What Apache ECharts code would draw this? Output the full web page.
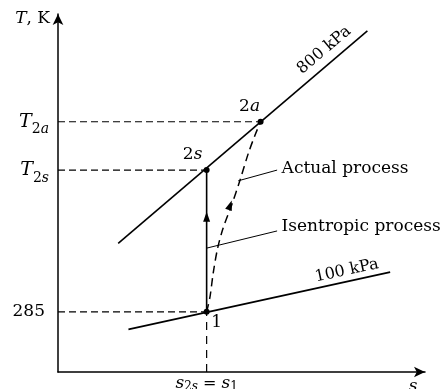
<!DOCTYPE html>
<html><head><meta charset="utf-8">
<script src="https://cdn.jsdelivr.net/npm/echarts@6/dist/echarts.min.js"></script>
<style>html,body{margin:0;padding:0;background:#fff}#c{width:443px;height:389px}</style>
</head><body><div id="c"></div>
<script>
// Schematic T-s diagram, units (s: 0..100, T: 0..100)
const stateS = [40.5, 40.5, 55.2];          // states 1, 2s, 2a
const stateT = [16.8, 56.4, 69.9];
const stateLabels = ['{r|1}', '{r|2}{i|s}', '{r|2}{i|a}'];
const line800S = [16.4, 84.3];
const line800T = [35.9, 95.3];
const line100S = [19.2, 90.5];
const line100T = [11.9, 27.9];
const actualS = [40.5, 41.4, 42.3, 43.5, 45.0, 47.3, 49.6, 51.9, 53.7, 55.2];
const actualT = [16.8, 20.9, 27.7, 34.6, 40.2, 46.6, 53.6, 61.2, 66.2, 69.9];
const arrowS = [40.5, 46.9];
const arrowT = [43.4, 46.6];
const actualLeaderS = [49.1, 59.7];
const actualLeaderT = [53.4, 56.4];
const isenLeaderS = [40.5, 59.7];
const isenLeaderT = [34.6, 39.4];
const yTickValues = [16.8, 56.4, 69.9];
const yTickLabels = ['{n|285}', '{ti|T}{sb|2}{sbi|s}', '{ti|T}{sb|2}{sbi|a}'];
const xTickValues = [40.5];
const xTickLabels = ['{xi|s}{xs|2}{xsi|s}{xr| = }{xi|s}{xs|1}'];
const pressureLabels = ['800 kPa', '100 kPa'];
const pressureLabelS = [72.5, 78.7];
const pressureLabelT = [89.9, 28.3];

const ink = '#000';
const serif = 'DejaVu Serif';
const rich = {
  i: {fontFamily: serif, fontStyle: 'italic', fontSize: 17, color: ink},
  r: {fontFamily: serif, fontSize: 17, color: ink},
  n: {fontFamily: serif, fontSize: 17, color: ink, padding: [0, 4, 0, 0]},
  ti: {fontFamily: serif, fontStyle: 'italic', fontSize: 19, color: ink, lineHeight: 30},
  sb: {fontFamily: serif, fontSize: 14, color: ink, lineHeight: 15, verticalAlign: 'bottom'},
  sbi: {fontFamily: serif, fontStyle: 'italic', fontSize: 14, color: ink, lineHeight: 15, verticalAlign: 'bottom'},
  xi: {fontFamily: serif, fontStyle: 'italic', fontSize: 17, color: ink, lineHeight: 18},
  xr: {fontFamily: serif, fontSize: 16, color: ink, lineHeight: 18},
  xs: {fontFamily: serif, fontSize: 12, color: ink, lineHeight: 12, verticalAlign: 'bottom'},
  xsi: {fontFamily: serif, fontStyle: 'italic', fontSize: 12, color: ink, lineHeight: 12, verticalAlign: 'bottom'}
};
const zip = (a, b) => a.map((v, k) => [v, b[k]]);
const nearest = (vals, v) => { let bi = 0; vals.forEach((x, k) => { if (Math.abs(x - v) < Math.abs(vals[bi] - v)) bi = k; }); return bi; };

const dashed = {color: ink, width: 1.2, type: [7, 4]};
const series = [];
// reference dashed lines
stateS.forEach((s, k) => {
  series.push({type: 'line', data: [[0, stateT[k]], [s, stateT[k]]], symbol: 'none', silent: true,
    lineStyle: dashed, z: 2});
});
series.push({type: 'line', data: [[stateS[0], 0], [stateS[0], stateT[0]]], symbol: 'none',
  lineStyle: {color: ink, width: 1.2, type: [8, 6]}, z: 2});
// isobars
series.push({type: 'line', data: zip(line800S, line800T), symbol: 'none', lineStyle: {color: ink, width: 1.6}, z: 3});
series.push({type: 'line', data: zip(line100S, line100T), symbol: 'none', lineStyle: {color: ink, width: 1.6}, z: 3});
// isentropic process
series.push({type: 'line', data: [[stateS[0], stateT[0]], [stateS[1], stateT[1]]], symbol: 'none',
  lineStyle: {color: ink, width: 1.6}, z: 3});
// actual process
series.push({type: 'line', data: zip(actualS, actualT), symbol: 'none', smooth: 0.3,
  lineStyle: {color: ink, width: 1.5, type: [8, 5]}, z: 3});
// leader lines
series.push({type: 'line', data: zip(actualLeaderS, actualLeaderT), symbol: 'none', lineStyle: {color: ink, width: 1}, z: 3});
series.push({type: 'line', data: zip(isenLeaderS, isenLeaderT), symbol: 'none', lineStyle: {color: ink, width: 1}, z: 3});
// leader texts
series.push({type: 'scatter', symbolSize: 1, itemStyle: {color: 'rgba(0,0,0,0)', opacity: 1}, z: 5,
  data: [
    {value: [actualLeaderS[1], actualLeaderT[1]], label: {formatter: 'Actual process', offset: [0, -2]}},
    {value: [isenLeaderS[1], isenLeaderT[1]], label: {formatter: 'Isentropic process', offset: [0, -4]}}
  ],
  label: {show: true, position: 'right', distance: 4, fontFamily: serif, fontSize: 17, color: ink, opacity: 1}});
// arrowheads
series.push({type: 'scatter', symbol: 'triangle', symbolSize: [7, 10], itemStyle: {color: ink, opacity: 1}, z: 6,
  data: [
    {value: [arrowS[0], arrowT[0]], symbolRotate: 0},
    {value: [arrowS[1], arrowT[1]], symbolRotate: -19}
  ]});
// state points
series.push({type: 'scatter', symbol: 'circle', symbolSize: 6, itemStyle: {color: ink, opacity: 1}, z: 7,
  data: zip(stateS, stateT).map((p, k) => ({value: p, label: {formatter: stateLabels[k],
    offset: [[10, 11], [-14, -16], [-11, -15]][k]}})),
  label: {show: true, position: 'inside', opacity: 1, rich}});
// pressure labels
series.push({type: 'scatter', symbolSize: 1, itemStyle: {color: 'rgba(0,0,0,0)', opacity: 1}, z: 5,
  data: zip(pressureLabelS, pressureLabelT).map((p, k) => ({value: p,
    label: {formatter: pressureLabels[k], rotate: [40, 12][k]}})),
  label: {show: true, position: 'inside', fontFamily: serif, fontSize: 16, color: ink, opacity: 1}});

const option = {
  animation: false,
  backgroundColor: '#fff',
  grid: {left: 58, right: 18, top: 14, bottom: 17, containLabel: false, outerBoundsMode: 'none'},
  xAxis: {
    type: 'value', min: 0, max: 100,
    axisLine: {show: true, onZero: false, lineStyle: {color: ink, width: 1.5}, symbol: ['none', 'arrow'], symbolSize: [8, 11]},
    axisTick: {show: false}, splitLine: {show: false},
    axisLabel: {customValues: xTickValues, margin: 3,
      formatter: v => xTickLabels[nearest(xTickValues, v)], rich},
    name: '{xi|s}', nameLocation: 'end', nameGap: -12,
    nameTextStyle: {align: 'center', verticalAlign: 'top', padding: [6, 0, 0, 0], rich}
  },
  yAxis: {
    type: 'value', min: 0, max: 100,
    axisLine: {show: true, onZero: false, lineStyle: {color: ink, width: 1.5}, symbol: ['none', 'arrow'], symbolSize: [8, 11]},
    axisTick: {show: false}, splitLine: {show: false},
    axisLabel: {customValues: yTickValues, margin: 9,
      formatter: v => yTickLabels[nearest(yTickValues, v)], rich},
    name: '{i|T}{r|, K}', nameLocation: 'end', nameGap: -5,
    nameTextStyle: {align: 'right', verticalAlign: 'middle', padding: [0, 8, 0, 0], rich}
  },
  series
};
const chart = echarts.init(document.getElementById('c'));
chart.setOption(option);
</script>
</body></html>
